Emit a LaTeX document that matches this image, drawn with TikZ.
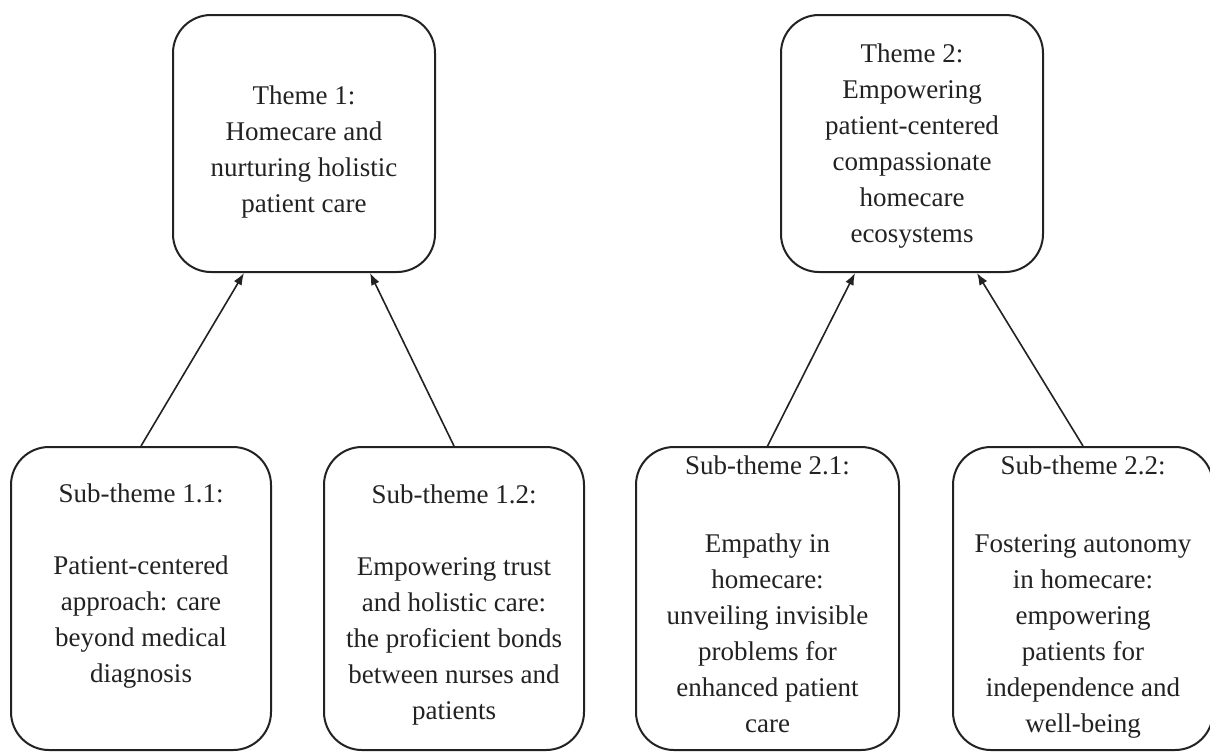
\documentclass[tikz,border=0pt]{standalone}
\usepackage{fontspec}
\setmainfont{Liberation Serif}
\usetikzlibrary{arrows.meta}
\definecolor{ink}{HTML}{222222}
\begin{document}
\begin{tikzpicture}[x=0.5pt,y=-0.5pt,
  box/.style={draw=ink, line width=1pt, rounded corners=19pt, inner sep=0pt},
  themebox/.style={box, minimum width=131pt, minimum height=128.5pt},
  subbox/.style={box, minimum width=130pt, minimum height=151.5pt},
  txt/.style={align=center, text=ink, inner sep=0pt, anchor=north, font=\fontsize{13.5}{18}\selectfont},
  arr/.style={draw=ink, line width=0.8pt, -{Latex[length=6pt,width=4.5pt]}}]
\useasboundingbox (0,0) rectangle (1210,751);
\fill[white] (0,0) rectangle (1210,751);

% boxes
\node[themebox] (t1) at (304,143.5) {};
\node[themebox] (t2) at (912,143.5) {};
\node[subbox] (s11) at (141,598.5) {};
\node[subbox] (s12) at (454,598.5) {};
\node[subbox, minimum width=131.5pt] (s21) at (767.5,598.5) {};
\node[subbox] (s22) at (1083,598.5) {};

% texts
\node[txt] (t1l) at (304,85) {Theme 1:\\Homecare and\\nurturing holistic\\patient care};
\node[txt] (t2l) at (912,43) {Theme 2:\\Empowering\\patient-centered\\compassionate\\homecare\\ecosystems};
\node[txt] (s11l) at (141,483) {Sub-theme 1.1:\\[18pt]Patient-centered\\approach: care\\beyond medical\\diagnosis};
\node[txt] (s12l) at (454,484) {Sub-theme 1.2:\\[18pt]Empowering trust\\and holistic care:\\the proficient bonds\\between nurses and\\patients};
\node[txt] (s21l) at (767.5,455) {Sub-theme 2.1:\\[21pt]Empathy in\\homecare:\\unveiling invisible\\problems for\\enhanced patient\\care};
\node[txt] (s22l) at (1083,455) {Sub-theme 2.2:\\[21pt]Fostering autonomy\\in homecare:\\empowering\\patients for\\independence and\\well-being};

% connectors
\draw[arr] (s11.north) -- ([xshift=-30pt]t1.south);
\draw[arr] (s12.north) -- ([xshift=33pt]t1.south);
\draw[arr] (s21.north) -- ([xshift=-28.5pt]t2.south);
\draw[arr] (s22.north) -- ([xshift=32.5pt]t2.south);
\end{tikzpicture}
\end{document}
